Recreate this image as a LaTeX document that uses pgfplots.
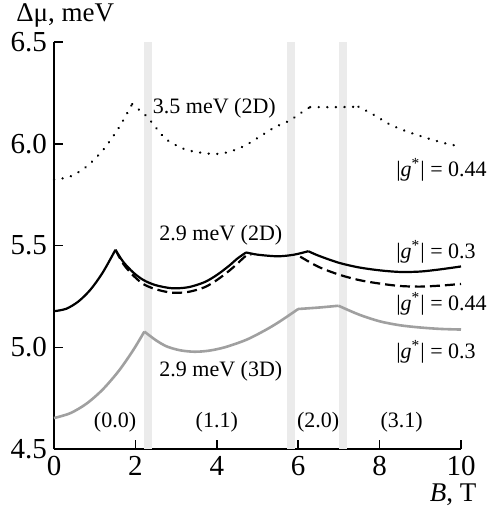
\documentclass[border=0pt]{standalone}
\usepackage{pgfplots}
\pgfplotsset{compat=1.18}
\usepackage{fontspec}
\setmainfont{Liberation Serif}

\definecolor{band}{HTML}{EBEBEB}
\definecolor{curvegray}{HTML}{A0A0A0}

\pgfplotstableread{
x y
0 5.177
0.3 5.189
0.6 5.225
0.9 5.284
1.2 5.368
1.51 5.479
1.7 5.42
1.95 5.367
2.2 5.33
2.5 5.305
2.9 5.29
3.3 5.295
3.7 5.32
4.0 5.355
4.3 5.40
4.5 5.435
4.72 5.466
5.0 5.455
5.5 5.447
5.9 5.455
6.25 5.472
6.5 5.45
7.0 5.415
7.5 5.392
8.0 5.378
8.5 5.37
9.0 5.372
9.5 5.383
10 5.397
}\solidtwod

\pgfplotstableread{
x y
1.51 5.479
1.7 5.41
1.95 5.352
2.2 5.31
2.5 5.285
2.9 5.268
3.3 5.272
3.7 5.295
4.0 5.33
4.3 5.375
4.5 5.41
4.72 5.45
4.85 5.456
5.0 5.455
5.5 5.447
5.9 5.453
6.05 5.445
6.5 5.395
7.0 5.357
7.5 5.33
8.0 5.313
8.5 5.301
9.0 5.298
9.5 5.303
10 5.311
}\dashedtwod

\pgfplotstableread{
x y
0 4.652
0.4 4.676
0.8 4.723
1.2 4.793
1.6 4.886
1.95 4.987
2.22 5.077
2.5 5.035
2.77 5.004
3.1 4.985
3.45 4.978
3.8 4.983
4.2 5.0
4.73 5.037
5.2 5.085
5.55 5.127
6.0 5.188
6.5 5.195
6.99 5.204
7.5 5.16
8.01 5.127
8.5 5.108
9.0 5.097
9.5 5.09
10 5.087
}\threed

\pgfplotstableread{
x y
0 5.823
0.4 5.839
0.8 5.888
1.2 5.968
1.6 6.081
1.92 6.195
2.28 6.134
2.5 6.08
2.77 6.02
3.26 5.97
3.9 5.95
4.3 5.96
4.73 5.995
5.39 6.077
5.8 6.115
6.0 6.143
6.29 6.18
7.0 6.18
7.48 6.182
7.85 6.143
8.26 6.094
8.66 6.061
9.16 6.028
9.65 6.0
10 5.987
}\dotted

\begin{document}
\begin{tikzpicture}
\useasboundingbox (-27pt,-29.5pt) rectangle (218pt,224.5pt);
\begin{axis}[
  at={(0,0)}, anchor=south west,
  scale only axis,
  width=203.5pt, height=203.5pt,
  xmin=0, xmax=10, ymin=4.5, ymax=6.5,
  axis x line*=bottom, axis y line*=left,
  axis line style={-, line width=0.75pt},
  tick align=inside,
  major tick length=4.5pt,
  tick style={line width=0.75pt, black},
  xtick={0,2,4,6,8,10},
  ytick={4.5,5.0,5.5,6.0,6.5},
  yticklabel style={/pgf/number format/.cd,fixed,fixed zerofill,precision=1},
  /pgf/number format/assume math mode=true,
  tick label style={font=\fontsize{14.5}{16}\selectfont},
  clip=false,
  dotline/.style={black, line width=1.2pt, dash pattern=on 0.1pt off 4.2pt, line cap=round, smooth},
  dashline/.style={black, line width=1.1pt, dash pattern=on 5pt off 2.5pt, smooth},
  solidline/.style={black, line width=1.1pt, smooth},
  grayline/.style={curvegray, line width=1.3pt, smooth},
]
% shaded bands
\addplot[fill=band, draw=none] coordinates {(2.21,4.5) (2.41,4.5) (2.41,6.5) (2.21,6.5)} -- cycle;
\addplot[fill=band, draw=none] coordinates {(5.72,4.5) (5.91,4.5) (5.91,6.5) (5.72,6.5)} -- cycle;
\addplot[fill=band, draw=none] coordinates {(7.00,4.5) (7.19,4.5) (7.19,6.5) (7.00,6.5)} -- cycle;

% 3.5 meV (2D), dotted
\addplot[dotline, restrict x to domain=0:1.92] table {\dotted};
\addplot[dotline, restrict x to domain=1.92:6.29] table {\dotted};
\addplot[dotline, restrict x to domain=6.29:7.48] table {\dotted};
\addplot[dotline, restrict x to domain=7.48:10] table {\dotted};

% 2.9 meV (2D), |g*| = 0.44, dashed (same as solid below 1.51)
\addplot[dashline, restrict x to domain=1.51:4.85] table {\dashedtwod};
\addplot[dashline, restrict x to domain=6.05:10] table {\dashedtwod};

% 2.9 meV (2D), |g*| = 0.3, solid
\addplot[solidline, restrict x to domain=0:1.51] table {\solidtwod};
\addplot[solidline, restrict x to domain=1.51:4.72] table {\solidtwod};
\addplot[solidline, restrict x to domain=4.72:6.25] table {\solidtwod};
\addplot[solidline, restrict x to domain=6.25:10] table {\solidtwod};

% 2.9 meV (3D), gray
\addplot[grayline, restrict x to domain=0:2.22] table {\threed};
\addplot[grayline, restrict x to domain=2.22:6.0] table {\threed};
\addplot[grayline, restrict x to domain=6.0:6.99] table {\threed};
\addplot[grayline, restrict x to domain=6.99:10] table {\threed};

% labels
\begin{scope}[every node/.style={font=\fontsize{11}{13}\selectfont, inner sep=0pt}]
\node at (axis cs:3.94,6.177) {3.5 meV (2D)};
\node at (axis cs:4.10,5.553) {2.9 meV (2D)};
\node at (axis cs:4.10,4.881) {2.9 meV (3D)};
\node[anchor=west] at (axis cs:8.40,5.872) {|\textit{g}\textsuperscript{*}| = 0.44};
\node[anchor=west] at (axis cs:8.40,5.467) {|\textit{g}\textsuperscript{*}| = 0.3};
\node[anchor=west] at (axis cs:8.40,5.213) {|\textit{g}\textsuperscript{*}| = 0.44};
\node[anchor=west] at (axis cs:8.40,4.976) {|\textit{g}\textsuperscript{*}| = 0.3};
\node at (axis cs:1.50,4.634) {(0.0)};
\node at (axis cs:4.00,4.634) {(1.1)};
\node at (axis cs:6.49,4.634) {(2.0)};
\node at (axis cs:8.54,4.634) {(3.1)};
\end{scope}
\node[anchor=west, inner sep=0pt, font=\fontsize{13.5}{15}\selectfont] at (axis cs:-0.934,6.63) {Δμ, meV};
\node[anchor=east, inner sep=0pt, font=\fontsize{13.5}{15}\selectfont] at (axis cs:10.39,4.275) {\textit{B}, T};
\end{axis}
\end{tikzpicture}
\end{document}
